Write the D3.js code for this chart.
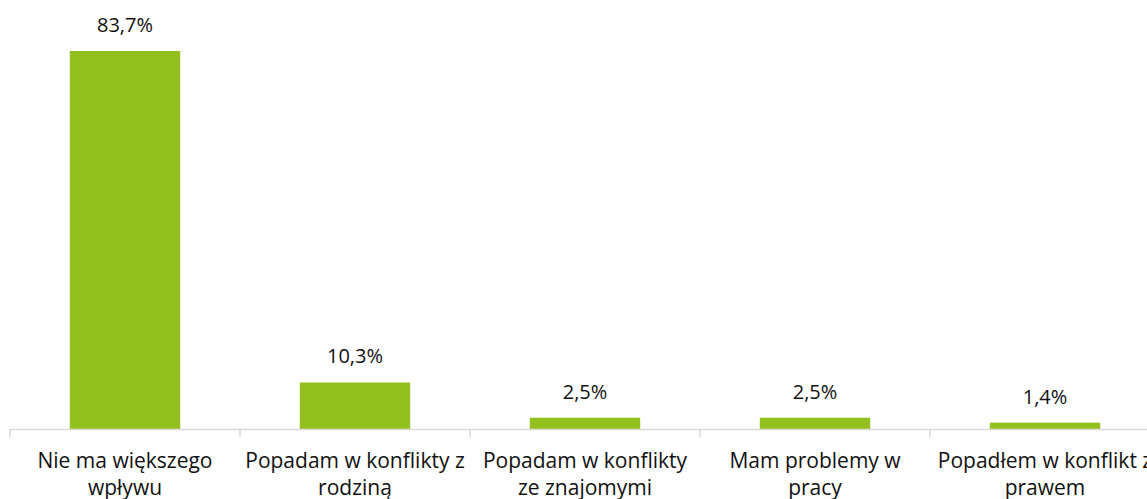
<!DOCTYPE html>
<html>
<head>
<meta charset="utf-8">
<script src="https://cdn.jsdelivr.net/npm/d3@7"></script>
<style>
  body { margin: 0; background: #fff; }
  text { font-family: "Open Sans", sans-serif; fill: #111; }
</style>
</head>
<body>
<svg></svg>
<script>
const WIDTH = 1147;
const HEIGHT = 499;

// data
const categories = [
    'Nie ma większego wpływu',
    'Popadam w konflikty z rodziną',
    'Popadam w konflikty ze znajomymi',
    'Mam problemy w pracy',
    'Popadłem w konflikt z prawem'
];
// tick labels as wrapped in the picture
const tickLines = [
    ['Nie ma większego', 'wpływu'],
    ['Popadam w konflikty z', 'rodziną'],
    ['Popadam w konflikty', 'ze znajomymi'],
    ['Mam problemy w', 'pracy'],
    ['Popadłem w konflikt z', 'prawem']
];
const values = [83.7, 10.3, 2.5, 2.5, 1.4];
const valueLabels = ['83,7%', '10,3%', '2,5%', '2,5%', '1,4%'];

const axisY = 429;
const barColor = '#93c01f';

let svg = d3.select('svg')
    .attr('width', WIDTH)
    .attr('height', HEIGHT);

let x = d3.scaleBand()
    .domain(categories)
    .range([10, 1160])
    .paddingInner(0.52)
    .paddingOuter(0.26);

let y = d3.scaleLinear()
    .domain([0, 90])
    .range([axisY, axisY - 90 * 4.516]);

// bars
svg.append('g')
    .classed('bars', true)
    .selectAll('rect')
    .data(values)
    .enter()
    .append('rect')
        .attr('x', (d, i) => x(categories[i]))
        .attr('y', (d) => y(d))
        .attr('width', x.bandwidth())
        .attr('height', (d) => y(0) - y(d))
        .attr('fill', barColor);

// value labels
svg.append('g')
    .classed('valueLabels', true)
    .selectAll('text')
    .data(values)
    .enter()
    .append('text')
        .attr('x', (d, i) => x(categories[i]) + x.bandwidth() / 2)
        .attr('y', (d) => y(d) - 19)
        .attr('text-anchor', 'middle')
        .style('font-size', '20px')
        .text((d, i) => valueLabels[i]);

// x axis, ticks sit between categories
let axisG = svg.append('g')
    .attr('transform', `translate(0, ${axisY})`)
    .call(d3.axisBottom(x).tickSize(0).tickFormat(''));
axisG.select('.domain')
    .attr('stroke', '#d9d9d9')
    .attr('stroke-width', 1.5)
    .attr('d', 'M10,0.5H1160');

const step = x.step();
const boundaries = d3.range(categories.length + 1).map((i) => 10 + i * step);
axisG.selectAll('line.sep')
    .data(boundaries)
    .enter()
    .append('line')
        .classed('sep', true)
        .attr('x1', (d) => d)
        .attr('x2', (d) => d)
        .attr('y1', 0)
        .attr('y2', 8)
        .attr('stroke', '#d9d9d9')
        .attr('stroke-width', 1.5);

// category labels
axisG.selectAll('text.cat')
    .data(categories)
    .enter()
    .append('text')
        .classed('cat', true)
        .attr('text-anchor', 'middle')
        .style('font-size', '21px')
        .each(function(d, i){
            const cx = x(d) + x.bandwidth() / 2;
            d3.select(this).selectAll('tspan')
                .data(tickLines[i])
                .enter()
                .append('tspan')
                    .attr('x', cx)
                    .attr('y', (l, j) => 39 + j * 27)
                    .text((l) => l);
        });
</script>
</body>
</html>
